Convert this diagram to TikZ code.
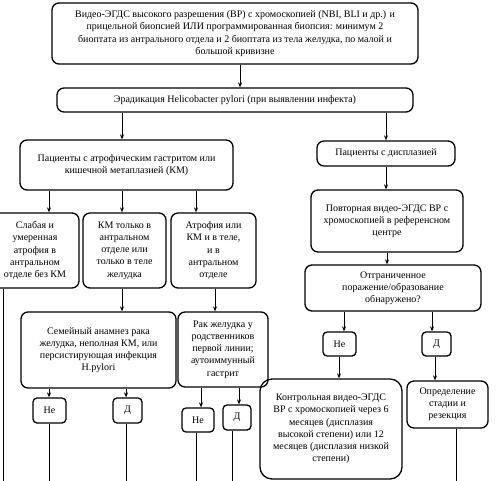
\documentclass[tikz,border=0pt]{standalone}
\usepackage{fontspec}
\setmainfont{Liberation Serif}
\usetikzlibrary{arrows.meta}
\begin{document}
\begin{tikzpicture}[x=1pt,y=-1pt,
  box/.style={draw, line width=1.3pt, rounded corners=7pt, align=center, inner sep=1pt,
    font=\fontsize{10}{12.2}\selectfont},
  sbox/.style={box, rounded corners=4pt},
  arr/.style={line width=0.7pt, -{Stealth[length=5pt,width=4pt]}},
  ln/.style={line width=0.7pt}]
\clip (0,0) rectangle (500,480);
% nodes
\node[box, minimum width=366pt, minimum height=61pt] (top) at (235,33.5)
  {Видео-ЭГДС высокого разрешения (ВР) с хромоскопией (NBI, BLI и др.) и\\
   прицельной биопсией ИЛИ программированная биопсия: минимум 2\\
   биоптата из антрального отдела и 2 биоптата из тела желудка, по малой и\\
   большой кривизне};
\node[box, minimum width=356pt, minimum height=24pt] (er) at (235,100)
  {Эрадикация Helicobacter pylori (при выявлении инфекта)};
\node[box, minimum width=213pt, minimum height=50pt] (atr) at (126.5,165)
  {Пациенты с атрофическим гастритом или\\ кишечной метаплазией (КМ)};
\node[box, minimum width=88pt, minimum height=75pt] (b1) at (35,250.5)
  {Слабая и\\ умеренная\\ атрофия в\\ антральном\\ отделе без КМ};
\node[box, minimum width=83pt, minimum height=75pt] (b2) at (124.5,250.5)
  {КМ только в\\ антральном\\ отделе или\\ только в теле\\ желудка};
\node[box, minimum width=85pt, minimum height=75pt] (b3) at (213.5,250.5)
  {Атрофия или\\ КМ и в теле,\\ и в\\ антральном\\ отделе};
\node[box, minimum width=155pt, minimum height=76pt] (fam) at (98.5,350)
  {Семейный анамнез рака\\ желудка, неполная КМ, или\\ персистирующая инфекция\\ H.pylori};
\node[box, minimum width=90pt, minimum height=75pt] (rak) at (223,349.5)
  {Рак желудка у\\ родственников\\ первой линии;\\ аутоиммунный\\ гастрит};
\node[sbox, minimum width=33pt, minimum height=25pt] (ne1) at (49.5,410.5) {Не};
\node[sbox, minimum width=29pt, minimum height=25pt] (d1) at (127.5,410.5) {Д};
\node[sbox, minimum width=32pt, minimum height=24pt] (ne2) at (198,420) {Не};
\node[sbox, minimum width=28pt, minimum height=25pt] (d2) at (237,417.5) {Д};
\node[box, minimum width=138pt, minimum height=25pt] (dys) at (386,153.5)
  {Пациенты с дисплазией};
\node[box, minimum width=152pt, minimum height=62pt] (rep) at (387,221)
  {Повторная видео-ЭГДС ВР с\\ хромоскопией в референсном\\ центре};
\node[box, minimum width=176pt, minimum height=46pt] (lim) at (393,288)
  {Отграниченное\\ поражение/образование\\ обнаружено?};
\node[sbox, minimum width=33pt, minimum height=24pt] (ne3) at (339.5,344) {Не};
\node[sbox, minimum width=29pt, minimum height=24pt] (d3) at (436.5,344) {Д};
\node[box, minimum width=142pt, minimum height=100pt, rounded corners=12pt] (kon) at (331,429)
  {Контрольная видео-ЭГДС\\ ВР с хромоскопией через 6\\ месяцев (дисплазия\\ высокой степени) или 12\\ месяцев (дисплазия низкой\\ степени)};
\node[box, minimum width=81pt, minimum height=47pt] (opr) at (447.5,404.5)
  {Определение\\ стадии и\\ резекция};
% free ends at the bottom
\coordinate (e1) at (3,482);
\coordinate (e2) at (49,482);
\coordinate (e3) at (126,482);
\coordinate (e4) at (196,482);
\coordinate (e5) at (232,482);
\coordinate (e6) at (456,482);
% connectors
\draw[arr] (top.south -| 240,0) -- (er.north -| 240,0);
\draw[arr] (er.south -| 122,0) -- (atr.north -| 122,0);
\draw[arr] (er.south -| 386,0) -- (dys.north -| 386,0);
\draw[arr] (atr.south -| 49,0) -- (b1.north -| 49,0);
\draw[arr] (atr.south -| 122,0) -- (b2.north -| 122,0);
\draw[arr] (atr.south -| 196,0) -- (b3.north -| 196,0);
\draw[arr] (b2.south -| 122,0) -- (fam.north -| 122,0);
\draw[arr] (b3.south -| 215,0) -- (rak.north -| 215,0);
\draw[arr] (fam.south -| 49,0) -- (ne1.north -| 49,0);
\draw[arr] (fam.south -| 126,0) -- (d1.north -| 126,0);
\draw[arr] (rak.south -| 201,0) -- (ne2.north -| 201,0);
\draw[arr] (rak.south -| 239,0) -- (d2.north -| 239,0);
\draw[arr] (dys.south -| 386,0) -- (rep.north -| 386,0);
\draw[arr] (rep.south -| 387,0) -- (lim.north -| 387,0);
\draw[arr] (lim.south -| 344,0) -- (ne3.north -| 344,0);
\draw[arr] (lim.south -| 432,0) -- (d3.north -| 432,0);
\draw[arr] (ne3.south -| 339,0) -- (kon.north -| 339,0);
\draw[arr] (d3.south -| 435,0) -- (opr.north -| 435,0);
\draw[ln] (b1.south -| e1) -- (e1);
\draw[ln] (ne1.south -| e2) -- (e2);
\draw[ln] (d1.south -| e3) -- (e3);
\draw[ln] (ne2.south -| e4) -- (e4);
\draw[ln] (d2.south -| e5) -- (e5);
\draw[ln] (opr.south -| e6) -- (e6);
\end{tikzpicture}
\end{document}
